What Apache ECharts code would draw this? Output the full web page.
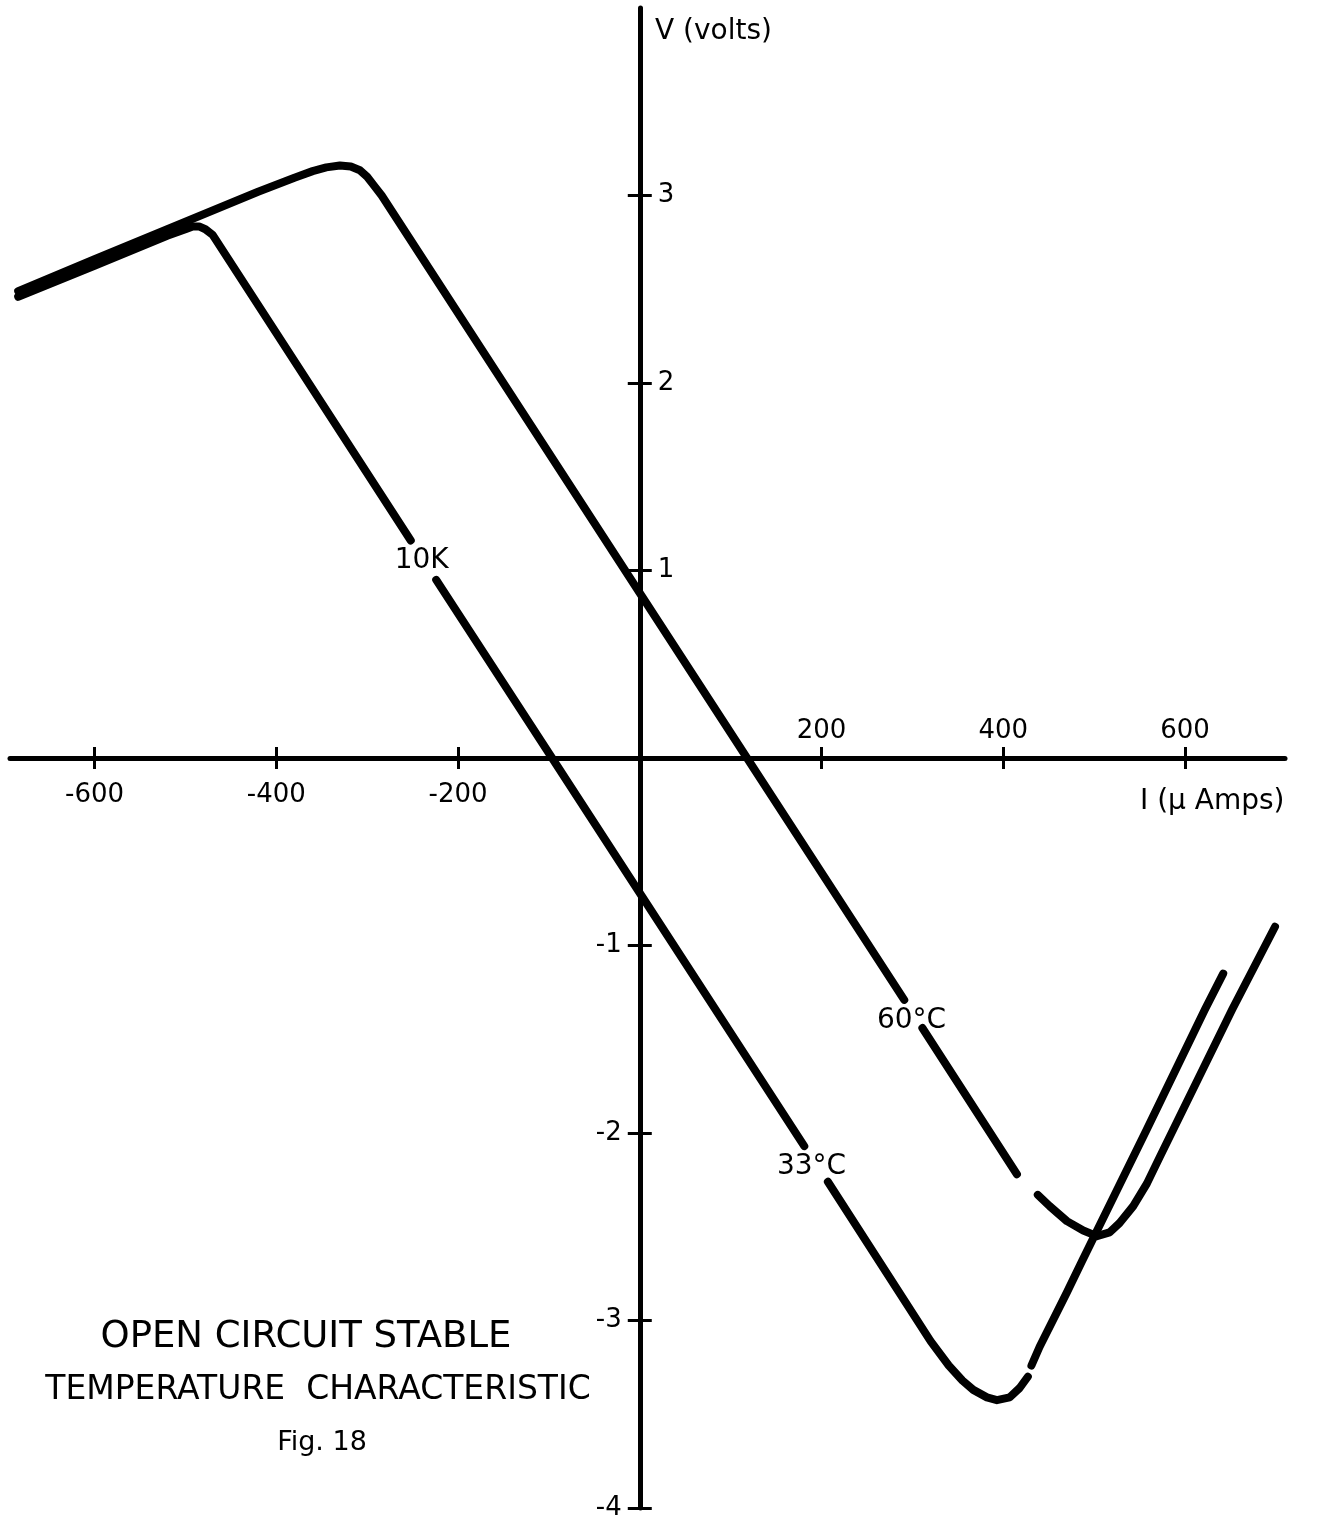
<!DOCTYPE html>
<html>
<head>
<meta charset="utf-8">
<script src="https://cdn.jsdelivr.net/npm/echarts@6/dist/echarts.min.js"></script>
<style>
html,body{margin:0;padding:0;background:#fff;}
#c{width:1325px;height:1522px;}
</style>
</head>
<body>
<div id="c"></div>
<script>
// ---- data ----
const xTicksNeg = [-600, -400, -200];
const xTicksPos = [200, 400, 600];
const xTicksAll = [-600, -400, -200, 200, 400, 600];
const yTicksNeg = [-4, -3, -2, -1];
const yTicksPos = [1, 2, 3];
const yTicksAll = [-4, -3, -2, -1, 1, 2, 3];

// 60°C curve (I in µA, V in volts); null = break in the drawn line
const curve60 = [
  [-684, 2.49], [-600, 2.66], [-500, 2.86], [-420, 3.02], [-380, 3.095],
  [-360, 3.13], [-345, 3.15], [-330, 3.16], [-318, 3.155], [-308, 3.135],
  [-300, 3.10], [-292, 3.05], [-284, 3.0], [0, 0.88], [118, 0], [291, -1.29],
  null,
  [311, -1.44], [415, -2.22],
  null,
  [438, -2.33], [451, -2.39], [470, -2.47], [488, -2.52], [503, -2.55],
  [517, -2.53], [528, -2.48], [543, -2.39], [558, -2.27], [572, -2.13],
  [652, -1.34], [699, -0.90]
];

// 10K / 33°C curve
const curve33 = [
  [-684, 2.46], [-600, 2.625], [-520, 2.785], [-500, 2.82], [-492, 2.835],
  [-485, 2.835], [-478, 2.82], [-470, 2.79], [-252, 1.16],
  null,
  [-224, 0.95], [-96.5, 0], [0, -0.72], [181, -2.07],
  null,
  [207, -2.26], [320, -3.11], [340, -3.24], [355, -3.32], [367, -3.37],
  [382, -3.41], [393, -3.425], [407, -3.41], [418, -3.36], [427, -3.30],
  null,
  [431, -3.24], [440, -3.14], [470, -2.85], [487, -2.68], [558, -1.98],
  [622, -1.34], [642, -1.15]
];

const curveLabelNames = ['10K', '60°C', '33°C'];
const curveLabelPos = [[-240, 1.05], [299, -1.40], [189, -2.18]];

const captionLines = ['OPEN CIRCUIT STABLE', 'TEMPERATURE  CHARACTERISTIC', 'Fig. 18'];
const yAxisTitle = 'V (volts)';
const xAxisTitle = 'I (\u03bc Amps)';

// ---- chart ----
const FONT = 'DejaVu Sans';
const W = 1325, H = 1522;
const G = { left: 10, right: 40, top: 8, bottom: 14 };
const xMin = -693, xMax = 710, yMin = -4, yMax = 4;
const gw = W - G.left - G.right, gh = H - G.top - G.bottom;
// pixel position of the zero lines inside the main grid (so the axes can cross at the origin)
const zeroX = G.left + (0 - xMin) / (xMax - xMin) * gw;
const zeroY = G.top + (yMax - 0) / (yMax - yMin) * gh;

function segments(pts) {
  const out = [[]];
  pts.forEach(p => { if (p === null) out.push([]); else out[out.length - 1].push(p); });
  return out.filter(s => s.length > 1);
}
const lineStyle = { color: '#000', width: 8, cap: 'round', join: 'round' };
const series = [];
[curve60, curve33].forEach(c => {
  segments(c).forEach(seg => {
    series.push({
      type: 'line', data: seg, showSymbol: false, symbol: 'none',
      lineStyle: lineStyle, silent: true, z: 3, xAxisIndex: 0, yAxisIndex: 0
    });
  });
});
series.push({
  type: 'scatter', symbolSize: 0, silent: true, z: 5, xAxisIndex: 0, yAxisIndex: 0,
  itemStyle: { opacity: 1, color: '#000' },
  data: curveLabelNames.map((n, i) => ({ name: n, value: curveLabelPos[i] })),
  label: {
    show: true, position: 'inside', formatter: '{b}', opacity: 1,
    fontFamily: FONT, fontSize: 28, color: '#000', textBorderWidth: 0
  }
});

const axisLineStyle = { color: '#000', width: 5 };
const tickLine = { color: '#000', width: 3 };
const labelFont = { fontFamily: FONT, fontSize: 26, color: '#000' };
const hidden = { show: false };
function hiddenAxis(type, min, max, gridIndex) {
  return { type: type, min: min, max: max, gridIndex: gridIndex, show: false,
    axisLine: hidden, axisTick: hidden, axisLabel: hidden, splitLine: hidden };
}

const option = {
  backgroundColor: '#fff',
  animation: false,
  grid: [
    // main plotting grid
    Object.assign({ containLabel: false, outerBoundsMode: 'none' }, G),
    // grid whose bottom edge is the V = 0 line (carries the I axis)
    { left: G.left, right: G.right, top: G.top, height: zeroY - G.top, containLabel: false, outerBoundsMode: 'none' },
    // grid whose left edge is the I = 0 line (carries the V axis)
    { left: zeroX, right: G.right, top: G.top, bottom: G.bottom, containLabel: false, outerBoundsMode: 'none' }
  ],
  xAxis: [
    hiddenAxis('value', xMin, xMax, 0),
    {
      type: 'value', min: xMin, max: xMax, position: 'bottom', gridIndex: 1,
      axisLine: { show: true, onZero: false, lineStyle: axisLineStyle },
      axisTick: { show: true, length: 11, customValues: xTicksAll, lineStyle: tickLine },
      axisLabel: Object.assign({ show: true, customValues: xTicksNeg, margin: 24 }, labelFont),
      splitLine: hidden
    },
    {
      type: 'value', min: xMin, max: xMax, position: 'bottom', gridIndex: 1,
      axisLine: { show: false, onZero: false },
      axisTick: { show: true, inside: true, length: 11, customValues: xTicksAll, lineStyle: tickLine },
      axisLabel: Object.assign({ show: true, inside: true, customValues: xTicksPos, margin: 14 }, labelFont),
      splitLine: hidden
    },
    hiddenAxis('value', xMin, xMax, 2)
  ],
  yAxis: [
    hiddenAxis('value', yMin, yMax, 0),
    hiddenAxis('value', yMin, yMax, 1),
    {
      type: 'value', min: yMin, max: yMax, position: 'left', gridIndex: 2,
      axisLine: { show: true, onZero: false, lineStyle: axisLineStyle },
      axisTick: { show: true, length: 12, customValues: yTicksAll, lineStyle: tickLine },
      axisLabel: Object.assign({ show: true, customValues: yTicksNeg, margin: 18 }, labelFont),
      splitLine: hidden
    },
    {
      type: 'value', min: yMin, max: yMax, position: 'left', gridIndex: 2,
      axisLine: { show: false, onZero: false },
      axisTick: { show: true, inside: true, length: 12, customValues: yTicksAll, lineStyle: tickLine },
      axisLabel: Object.assign({ show: true, inside: true, customValues: yTicksPos, margin: 18 }, labelFont),
      splitLine: hidden
    }
  ],
  graphic: [
    { type: 'text', left: 655, top: 18, style: { text: yAxisTitle, font: '28px "DejaVu Sans"', fill: '#000' } },
    { type: 'text', left: 1140, top: 788, style: { text: xAxisTitle, font: '28px "DejaVu Sans"', fill: '#000' } },
    { type: 'text', x: 306, y: 1337, style: { text: captionLines[0], font: '37px "DejaVu Sans"', fill: '#000', textAlign: 'center', textVerticalAlign: 'middle' } },
    { type: 'text', x: 318, y: 1390, style: { text: captionLines[1], font: '33px "DejaVu Sans"', fill: '#000', textAlign: 'center', textVerticalAlign: 'middle' } },
    { type: 'text', x: 322, y: 1443, style: { text: captionLines[2], font: '27px "DejaVu Sans"', fill: '#000', textAlign: 'center', textVerticalAlign: 'middle' } }
  ],
  series: series
};

const chart = echarts.init(document.getElementById('c'), null, { renderer: 'canvas' });
chart.setOption(option);
</script>
</body>
</html>
